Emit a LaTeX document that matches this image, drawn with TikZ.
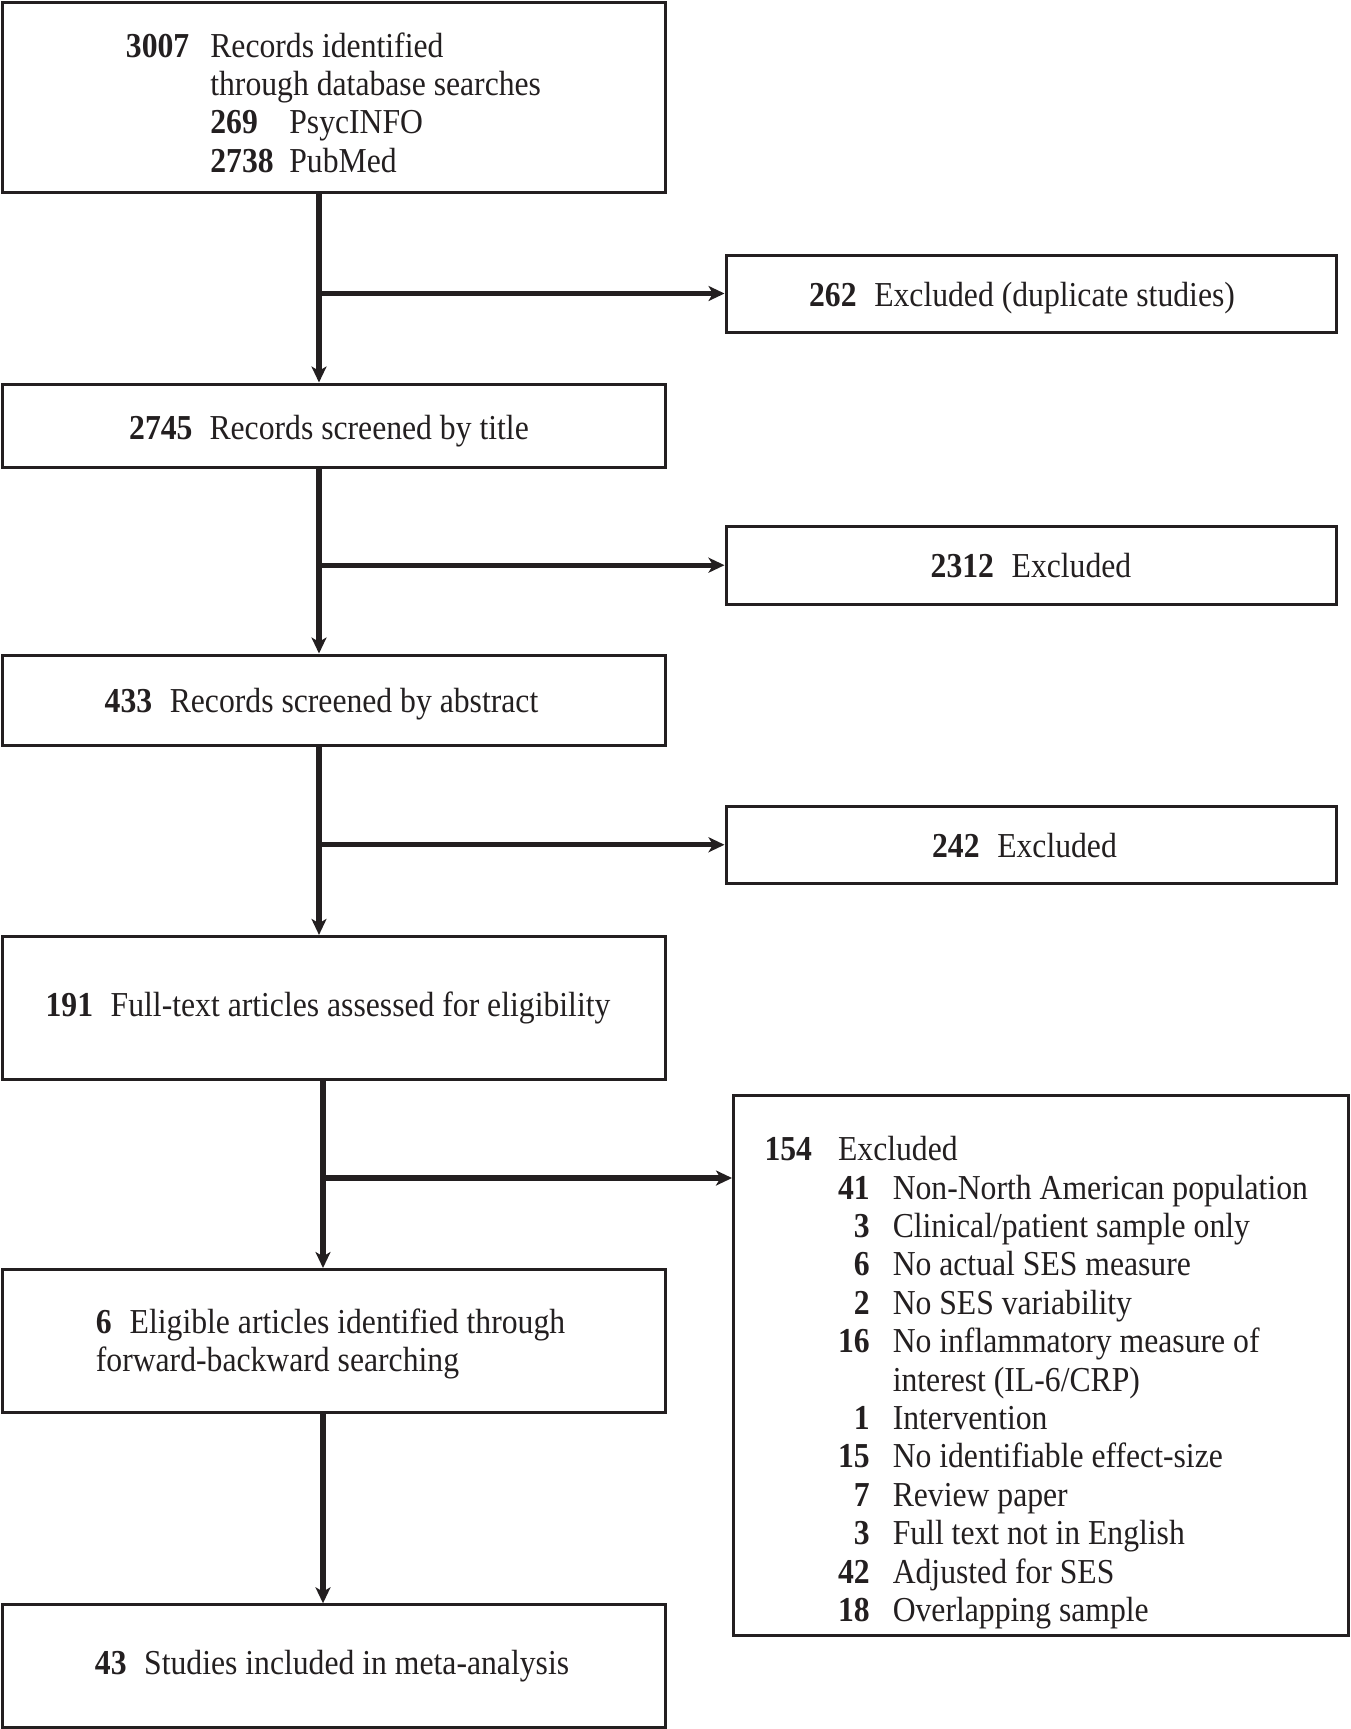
\documentclass[tikz,border=0pt]{standalone}
\usepackage{fontspec}
\setmainfont{Liberation Serif}[FakeStretch=0.905]
\usetikzlibrary{arrows.meta,calc}
\definecolor{ink}{RGB}{35,31,32}
\newcommand{\shiftdown}[2]{\raisebox{-#1}[\height][\depth]{#2}}
\begin{document}
\begin{tikzpicture}[x=0.5pt,y=-0.5pt,
  every node/.style={font=\fontsize{17.5}{19.2}\selectfont, text=ink},
  box/.style={draw=ink, line width=1.5pt, rectangle, inner sep=0pt},
  arr/.style={draw=ink, line width=2.6pt, -{Stealth[length=8pt,width=7.5pt,inset=2.2pt]}}
]
\useasboundingbox (0,0) rectangle (1350,1729);
% left column
\node[box, minimum width=331.5pt, minimum height=95pt] (b1) at (333.5,97) {\shiftdown{5pt}{%
\begin{tabular}{@{}l@{\hspace{10.5pt}}l@{}}
\textbf{3007} & Records identified\\
 & through database searches\\
 & \makebox[39.5pt][l]{\textbf{269}}PsycINFO\\
 & \makebox[39.5pt][l]{\textbf{2738}}PubMed
\end{tabular}}};
\node[box, minimum width=331.5pt, minimum height=41.5pt] (b2) at (333.5,425.5) {\shiftdown{2.8pt}{\textbf{2745}\hspace{8.5pt}Records screened by title}\kern4.5pt};
\node[box, minimum width=331.5pt, minimum height=45.3pt] (b3) at (333.5,700.3) {\shiftdown{1.7pt}{\textbf{433}\hspace{8.8pt}Records screened by abstract}\kern12pt};
\node[box, minimum width=331.5pt, minimum height=71.7pt] (b4) at (333.5,1008.1) {\textbf{191}\hspace{8.8pt}Full-text articles assessed for eligibility\kern5.5pt};
\node[box, minimum width=331.5pt, minimum height=71.7pt] (b5) at (333.5,1341.2) {\shiftdown{1.7pt}{\begin{tabular}{@{}l@{}}\textbf{6}\hspace{9pt}Eligible articles identified through\\forward-backward searching\end{tabular}}\kern3pt};
\node[box, minimum width=331.5pt, minimum height=61.1pt] (b6) at (333.5,1665.9) {\textbf{43}\hspace{8.8pt}Studies included in meta-analysis\kern1.5pt};
% right column
\node[box, minimum width=305pt, minimum height=38.5pt] (e1) at (1031,293.5) {\shiftdown{2.2pt}{\textbf{262}\hspace{8.8pt}Excluded (duplicate studies)}\kern9pt};
\node[box, minimum width=305pt, minimum height=39.2pt] (e2) at (1031,565.2) {\textbf{2312}\hspace{8.8pt}Excluded};
\node[box, minimum width=305pt, minimum height=38.75pt] (e3) at (1031,844.75) {\shiftdown{0.5pt}{\textbf{242}\hspace{8.8pt}Excluded}\kern6.5pt};
\node[box, minimum width=307.25pt, minimum height=270.35pt] (e4) at (1040.75,1365.35) {\shiftdown{9pt}{%
\begin{tabular}{@{}l@{\hspace{13pt}}r@{\hspace{11.5pt}}l@{}}
\textbf{154} & \multicolumn{2}{@{}l@{}}{Excluded}\\
 & \textbf{41} & Non-North American population\\
 & \textbf{3} & Clinical/patient sample only\\
 & \textbf{6} & No actual SES measure\\
 & \textbf{2} & No SES variability\\
 & \textbf{16} & No inflammatory measure of\\
 & & interest (IL-6/CRP)\\
 & \textbf{1} & Intervention\\
 & \textbf{15} & No identifiable effect-size\\
 & \textbf{7} & Review paper\\
 & \textbf{3} & Full text not in English\\
 & \textbf{42} & Adjusted for SES\\
 & \textbf{18} & Overlapping sample
\end{tabular}}\kern4.5pt};
% junctions
\coordinate (j1) at (319,293.5);
\coordinate (j2) at (319,565.2);
\coordinate (j3) at (319,844.75);
\coordinate (j4) at (323,1178);
\coordinate (j5) at (323,1500);
% connectors
\draw[arr] (b1.south -| j1) -- (b2.north -| j1);
\draw[arr] (j1) -- (j1 -| e1.west);
\draw[arr] (b2.south -| j2) -- (b3.north -| j2);
\draw[arr] (j2) -- (j2 -| e2.west);
\draw[arr] (b3.south -| j3) -- (b4.north -| j3);
\draw[arr] (j3) -- (j3 -| e3.west);
\draw[arr] (b4.south -| j4) -- (b5.north -| j4);
\draw[arr] (j4) -- (j4 -| e4.west);
\draw[arr] (b5.south -| j5) -- (b6.north -| j5);
\end{tikzpicture}
\end{document}
